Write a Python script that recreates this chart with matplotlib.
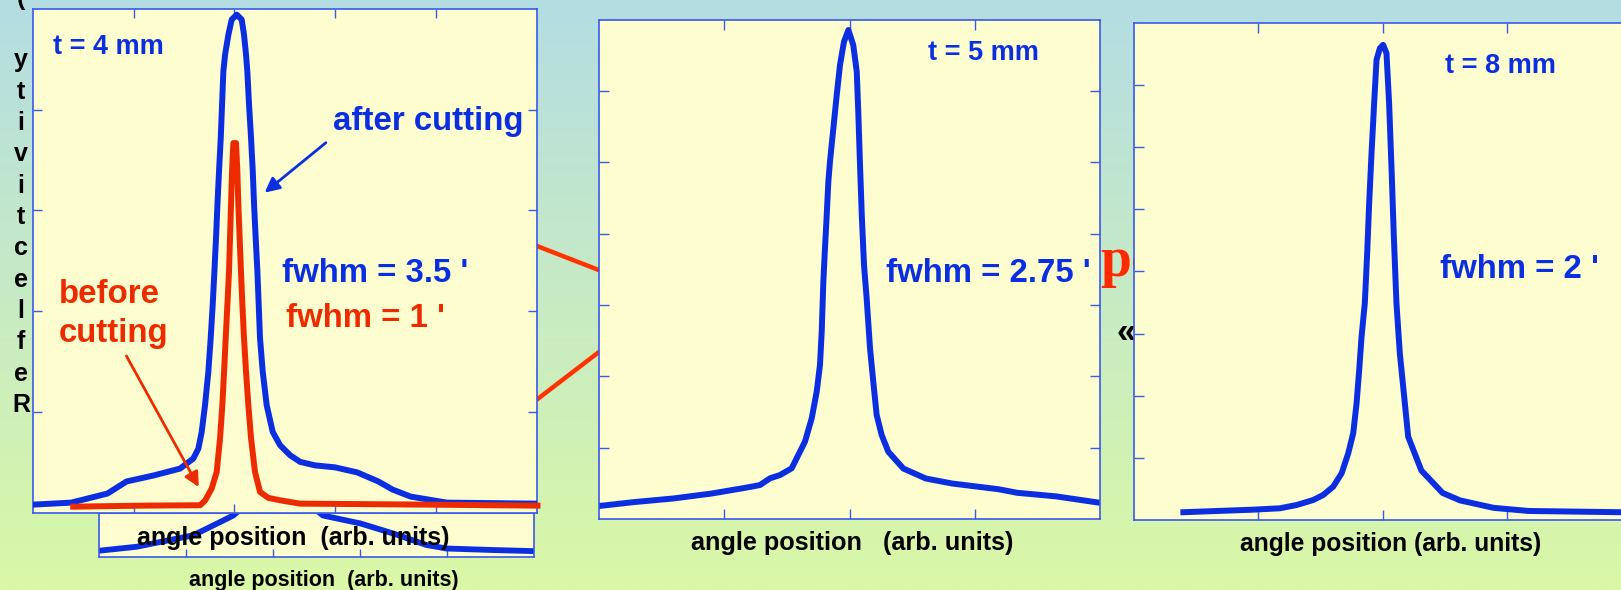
import numpy as np
import matplotlib.pyplot as plt

plt.rcParams['font.family'] = ['Liberation Sans', 'DejaVu Sans']

# ---- data (arbitrary units) ----
# t = 4 mm, after cutting
x_after4 = [0.0, 0.38, 0.74, 0.93, 1.20, 1.461, 1.593, 1.643, 1.676, 1.709, 1.742, 1.765, 1.785,
            1.802, 1.818, 1.832, 1.848, 1.865, 1.878, 1.891, 1.908, 1.941, 1.974, 2.024, 2.073,
            2.096, 2.116, 2.129, 2.146, 2.166, 2.183, 2.196, 2.212, 2.229, 2.242, 2.255, 2.282,
            2.321, 2.381, 2.454, 2.553, 2.652, 2.80, 3.0, 3.22, 3.43, 3.57, 3.75, 4.11, 5.0]
y_after4 = [0.08, 0.10, 0.19, 0.31, 0.37, 0.438, 0.538, 0.637, 0.802, 1.068, 1.399, 1.730, 2.062,
            2.393, 2.724, 3.056, 3.387, 3.718, 4.050, 4.381, 4.547, 4.746, 4.895, 4.944, 4.895,
            4.746, 4.547, 4.381, 4.050, 3.718, 3.387, 3.056, 2.724, 2.393, 2.062, 1.730, 1.399,
            1.068, 0.802, 0.670, 0.571, 0.505, 0.47, 0.45, 0.40, 0.31, 0.23, 0.16, 0.10, 0.09]
# t = 4 mm, before cutting
x_before4 = [0.40, 1.09, 1.66, 1.709, 1.775, 1.825, 1.858, 1.881, 1.898, 1.914, 1.931, 1.947,
             1.957, 1.967, 1.977, 1.990, 2.017, 2.030, 2.040, 2.053, 2.066, 2.080, 2.096, 2.116,
             2.139, 2.166, 2.205, 2.255, 2.338, 2.454, 2.652, 3.93, 5.01]
y_before4 = [0.06, 0.07, 0.074, 0.12, 0.24, 0.405, 0.737, 1.068, 1.399, 1.730, 2.062, 2.393,
             2.724, 3.056, 3.387, 3.669, 3.669, 3.387, 3.056, 2.724, 2.393, 2.062, 1.730, 1.399,
             1.068, 0.737, 0.405, 0.206, 0.147, 0.123, 0.09, 0.08, 0.07]

# panel partly hidden under the t = 4 mm plot
x_hidden = [0.0, 0.43, 1.08, 1.54, 1.80, 2.30, 2.57, 3.0, 3.38, 3.76, 3.99, 4.53, 5.0]
y_hidden = [0.15, 0.24, 0.50, 0.95, 1.40, 1.40, 0.95, 0.77, 0.54, 0.28, 0.20, 0.165, 0.14]

# t = 5 mm
x_t5 = [0.0, 0.28, 0.59, 0.90, 1.20, 1.285, 1.365, 1.445, 1.538, 1.591, 1.644, 1.698, 1.738,
        1.764, 1.778, 1.791, 1.804, 1.818, 1.831, 1.844, 1.871, 1.898, 1.924, 1.956, 1.991,
        2.030, 2.058, 2.071, 2.084, 2.098, 2.116, 2.137, 2.164, 2.190, 2.217, 2.257, 2.310,
        2.43, 2.61, 2.82, 3.19, 3.34, 3.65, 4.0]
y_t5 = [0.185, 0.24, 0.29, 0.36, 0.45, 0.479, 0.573, 0.619, 0.713, 0.900, 1.086, 1.413, 1.787,
        2.160, 2.627, 3.328, 3.795, 4.262, 4.729, 5.009, 5.477, 5.944, 6.364, 6.691, 6.854,
        6.644, 6.270, 5.663, 4.963, 4.262, 3.562, 3.095, 2.394, 1.927, 1.460, 1.180, 0.946,
        0.71, 0.57, 0.50, 0.42, 0.37, 0.32, 0.23]

# t = 8 mm
x_t8 = [0.40, 0.95, 1.175, 1.309, 1.442, 1.522, 1.602, 1.670, 1.723, 1.763, 1.790, 1.811, 1.830,
        1.856, 1.875, 1.891, 1.910, 1.931, 1.950, 1.977, 2.003, 2.030, 2.051, 2.071, 2.089,
        2.110, 2.137, 2.164, 2.204, 2.31, 2.48, 2.62, 2.89, 3.17, 3.91]
y_t8 = [0.13, 0.17, 0.193, 0.246, 0.326, 0.407, 0.540, 0.755, 1.077, 1.399, 1.881, 2.416, 2.952,
        3.488, 4.292, 5.096, 5.900, 6.704, 7.400, 7.588, 7.642, 7.508, 6.704, 5.632, 4.560,
        3.488, 2.685, 2.148, 1.344, 0.80, 0.44, 0.32, 0.20, 0.15, 0.13]

thick_labels = ['t = 4 mm', 't = 5 mm', 't = 8 mm']
fwhm_labels = ["fwhm = 3.5 '", "fwhm = 2.75 '", "fwhm = 2 '"]
fwhm_before = "fwhm = 1 '"
xlabel = 'angle position  (arb. units)'
ylabel_chars = list('( ytivitcelfeR')

# connector lines between the first two panels (slide pixels)
link1_x, link1_y = [520, 610], [239.4, 274.4]
link2_x, link2_y = [520, 610], [412.5, 343.5]

BLUE = '#0b2fe0'
RED = '#ec2c00'
FACE = '#fdfdcf'
SPINE = '#3a5ae8'

W, H = 1621, 590
fig = plt.figure(figsize=(W / 100, H / 100), dpi=100)


def px_axes(left, top, right, bottom, z):
    return fig.add_axes([left / W, 1 - bottom / H, (right - left) / W, (bottom - top) / H], zorder=z)


def style(ax, xmax, ymax, tick_len=7):
    ax.set_facecolor(FACE)
    ax.set_xlim(0, xmax)
    ax.set_ylim(0, ymax)
    ax.set_xticks(range(1, xmax))
    ax.set_yticks(range(1, ymax))
    ax.tick_params(direction='in', length=tick_len, width=1, color=SPINE,
                   top=True, right=True, labelbottom=False, labelleft=False)
    for s in ax.spines.values():
        s.set_color(SPINE)
        s.set_linewidth(1.2)


# background gradient
bg = fig.add_axes([0, 0, 1, 1], zorder=0)
grad = np.linspace(0, 1, 256)[:, None]
top_c = np.array([180, 221, 227]) / 255
bot_c = np.array([218, 248, 166]) / 255
img = top_c[None, None, :] * (1 - grad[:, :, None]) + bot_c[None, None, :] * grad[:, :, None]
bg.imshow(img, extent=[0, W, H, 0], aspect='auto')
bg.set_xlim(0, W)
bg.set_ylim(H, 0)
bg.axis('off')

bg.plot(link1_x, link1_y, color='#ff3300', lw=3.2, solid_capstyle='butt')
bg.plot(link2_x, link2_y, color='#ff3300', lw=3.2, solid_capstyle='butt')

# vertical stacked y label
for i, ch in enumerate(ylabel_chars):
    bg.text(21, 4.6 + 31.34 * i, ch, fontsize=18, fontweight='bold', color='black',
            ha='center', va='baseline')

bg.text(323.8, 586, xlabel, fontsize=15.5, fontweight='bold', ha='center', va='baseline')
bg.text(1100.5, 276, 'pe', fontsize=40, fontweight='bold', color='#ff2a00',
        family='Liberation Serif', ha='left', va='baseline')
bg.text(1117, 333, '\u00ab', fontsize=25, fontweight='bold', color='black', ha='left', va='center')

# hidden panel under the first plot
axh = px_axes(99.3, 513.3, 534.3, 557.3, 1)
axh.set_facecolor(FACE)
axh.set_xlim(0, 5)
axh.set_ylim(0, 1)
axh.set_xticks(range(1, 5))
axh.set_yticks([])
axh.tick_params(axis='x', direction='in', length=6, width=1, color=SPINE, labelbottom=False)
for s in axh.spines.values():
    s.set_color(SPINE)
    s.set_linewidth(1.2)
axh.plot(x_hidden, y_hidden, color=BLUE, lw=4.2)
axh.text(0.445, 0.28, xlabel, transform=axh.transAxes, fontsize=18, fontweight='bold',
         ha='center', va='baseline', zorder=5)

# t = 4 mm
ax1 = px_axes(32.9, 9.0, 536.5, 512.7, 2)
style(ax1, 5, 5, tick_len=6.5)
ax1.plot(x_after4, y_after4, color=BLUE, lw=4.3, zorder=3)
ax1.plot(x_before4, y_before4, color=RED, lw=4.3, zorder=4, clip_on=False)
ax1.text(0.04, 0.91, thick_labels[0], transform=ax1.transAxes, fontsize=19.5, fontweight='bold',
         color=BLUE, va='baseline')
ax1.text(0.596, 0.76, 'after cutting', transform=ax1.transAxes, fontsize=23.8, fontweight='bold',
         color=BLUE, va='baseline')
ax1.text(0.495, 0.4576, fwhm_labels[0], transform=ax1.transAxes, fontsize=23.8, fontweight='bold',
         color=BLUE, va='baseline')
ax1.text(0.502, 0.3695, fwhm_before, transform=ax1.transAxes, fontsize=23.8, fontweight='bold',
         color=RED, va='baseline')
ax1.text(0.052, 0.4165, 'before', transform=ax1.transAxes, fontsize=23.8, fontweight='bold',
         color=RED, va='baseline')
ax1.text(0.052, 0.338, 'cutting', transform=ax1.transAxes, fontsize=23.8, fontweight='bold',
         color=RED, va='baseline')
ax1.annotate('', xy=(2.28, 3.16), xytext=(2.93, 3.69),
             arrowprops=dict(arrowstyle='-|>', color=BLUE, lw=2, mutation_scale=22))
ax1.annotate('', xy=(1.66, 0.23), xytext=(0.915, 1.58),
             arrowprops=dict(arrowstyle='-|>', color=RED, lw=2, mutation_scale=22))

# t = 5 mm
ax2 = px_axes(599.2, 19.6, 1099.8, 519.2, 2)
style(ax2, 4, 7)
ax2.plot(x_t5, y_t5, color=BLUE, lw=4.3)
ax2.text(0.656, 0.919, thick_labels[1], transform=ax2.transAxes, fontsize=19.5, fontweight='bold',
         color=BLUE, va='baseline')
ax2.text(0.572, 0.474, fwhm_labels[1], transform=ax2.transAxes, fontsize=23.8, fontweight='bold',
         color=BLUE, va='baseline')
ax2.text(0.505, -0.0617, 'angle position   (arb. units)', transform=ax2.transAxes, fontsize=18.2,
         fontweight='bold', ha='center', va='baseline')

# t = 8 mm (runs off the right edge of the slide)
ax3 = px_axes(1133.5, 22.6, 1632.0, 520.3, 3)
style(ax3, 4, 8)
ax3.plot(x_t8, y_t8, color=BLUE, lw=4.3)
ax3.text(0.625, 0.898, thick_labels[2], transform=ax3.transAxes, fontsize=19.5, fontweight='bold',
         color=BLUE, va='baseline')
ax3.text(0.614, 0.4875, fwhm_labels[2], transform=ax3.transAxes, fontsize=23.8, fontweight='bold',
         color=BLUE, va='baseline')
ax3.text(0.5155, -0.062, 'angle position (arb. units)', transform=ax3.transAxes, fontsize=17.7,
         fontweight='bold', ha='center', va='baseline')

fig.savefig('out.png', dpi=100)
